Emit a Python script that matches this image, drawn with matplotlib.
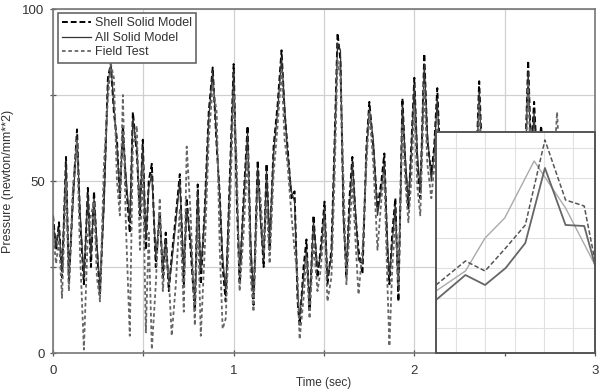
import numpy as np
import matplotlib.pyplot as plt
from matplotlib.ticker import MultipleLocator

plt.rcParams['font.family'] = ['Liberation Sans', 'DejaVu Sans']

# ---------------------------------------------------
# main series (time in sec, pressure in newton/mm**2)
# ---------------------------------------------------
time = [0.000, 0.017, 0.033, 0.050, 0.072, 0.088, 0.110, 0.133, 0.149, 0.171,
        0.193, 0.210, 0.227, 0.243, 0.260, 0.282, 0.304, 0.320, 0.337, 0.354,
        0.370, 0.387, 0.403, 0.425, 0.442, 0.464, 0.481, 0.497, 0.514, 0.530,
        0.547, 0.569, 0.591, 0.608, 0.624, 0.641, 0.657, 0.680, 0.702, 0.724,
        0.740, 0.762, 0.785, 0.801, 0.818, 0.840, 0.862, 0.884, 0.906, 0.923,
        0.939, 0.956, 0.978, 1.000, 1.017, 1.033, 1.055, 1.077, 1.094, 1.110,
        1.133, 1.149, 1.166, 1.182, 1.199, 1.221, 1.243, 1.265, 1.282, 1.298,
        1.320, 1.337, 1.354, 1.365, 1.387, 1.403, 1.420, 1.442, 1.464, 1.481,
        1.503, 1.519, 1.541, 1.558, 1.575, 1.591, 1.608, 1.624, 1.641, 1.657,
        1.674, 1.691, 1.713, 1.735, 1.751, 1.773, 1.796, 1.818, 1.834, 1.851,
        1.862, 1.878, 1.895, 1.912, 1.934, 1.950, 1.967, 1.983, 2.000, 2.017,
        2.033, 2.055, 2.072, 2.094, 2.110, 2.127, 2.144, 2.249, 2.343, 2.359,
        2.376, 2.525, 2.613, 2.630, 2.646, 2.663, 2.680, 2.702, 2.724, 2.773,
        2.790, 2.807, 2.990]

shell_solid = [40, 30, 38, 22, 57, 20, 45, 65, 40, 20,
               48, 25, 47, 30, 17, 45, 80, 84, 70, 62,
               45, 66, 50, 35, 70, 58, 40, 62, 30, 50,
               55, 25, 41, 22, 35, 18, 28, 40, 52, 20,
               45, 30, 12, 49, 20, 42, 70, 83, 60, 46,
               25, 15, 50, 84, 45, 20, 45, 66, 30, 14,
               56, 40, 25, 55, 30, 60, 72, 88, 70, 60,
               45, 47, 15, 8, 25, 33, 12, 40, 22, 30,
               44, 20, 30, 60, 93, 85, 40, 22, 45, 57,
               40, 30, 23, 60, 73, 60, 42, 50, 58, 30,
               20, 35, 45, 15, 74, 55, 42, 60, 80, 55,
               45, 87, 62, 52, 60, 77, 55, 50, 55, 79,
               55, 50, 55, 85, 58, 73, 55, 66, 50, 52,
               55, 50, 45]

all_solid = [38, 31, 36, 24, 55, 22, 43, 63, 42, 22,
             46, 28, 45, 32, 19, 42, 78, 84, 72, 60,
             47, 64, 52, 38, 68, 60, 42, 60, 33, 48,
             52, 28, 40, 25, 33, 20, 26, 38, 50, 24,
             42, 33, 14, 47, 24, 40, 68, 82, 62, 45,
             28, 18, 48, 82, 48, 24, 43, 64, 33, 16,
             54, 38, 27, 53, 33, 58, 70, 86, 72, 58,
             47, 44, 18, 10, 22, 30, 14, 38, 25, 28,
             42, 22, 28, 58, 90, 88, 38, 25, 42, 55,
             42, 27, 26, 58, 71, 62, 40, 48, 55, 33,
             22, 32, 43, 18, 72, 57, 44, 58, 78, 58,
             47, 84, 64, 50, 58, 74, 52, 48, 52, 76,
             52, 48, 52, 82, 55, 70, 52, 60, 48, 50,
             52, 48, 42]

field_test = [35, 26, 33, 16, 50, 18, 48, 62, 30, 1,
              35, 40, 44, 22, 15, 55, 74, 84, 80, 50,
              40, 75, 38, 5, 60, 66, 30, 55, 6, 35,
              1, 20, 45, 18, 30, 22, 5, 20, 42, 12,
              60, 40, 8, 40, 5, 30, 62, 78, 70, 30,
              7, 10, 40, 76, 55, 18, 35, 58, 22, 12,
              48, 45, 30, 44, 26, 52, 66, 82, 62, 55,
              40, 30, 22, 4, 16, 28, 10, 32, 18, 24,
              38, 15, 22, 50, 85, 80, 50, 20, 35, 50,
              33, 17, 30, 55, 70, 55, 30, 45, 52, 20,
              2, 25, 38, 20, 66, 50, 38, 50, 72, 48,
              40, 78, 55, 45, 54, 65, 50, 45, 50, 72,
              50, 45, 50, 78, 52, 65, 50, 58, 45, 55,
              70, 52, 40]

# ---------------------------------------------------
# inset (magnified view, arbitrary units)
# ---------------------------------------------------
inset_x = [0.0, 0.30, 0.50, 0.71, 0.91, 1.11, 1.32, 1.51, 1.62]
inset_shell = [0.68, 0.92, 0.82, 1.05, 1.28, 2.13, 1.53, 1.47, 0.92]
inset_all = [0.53, 0.78, 0.68, 0.85, 1.10, 1.85, 1.28, 1.27, 0.88]
inset_field_x = [0.0, 0.30, 0.50, 0.70, 1.00, 1.32, 1.62]
inset_field = [0.62, 0.82, 1.15, 1.35, 1.92, 1.45, 0.88]

fig = plt.figure(figsize=(6.01, 3.89), dpi=100)
ax = fig.add_axes([53/601, 36/389, 542/601, 344/389])

ax.plot(time, shell_solid, color='black', linestyle=(0, (3, 1.5)), linewidth=1.4, label='Shell Solid Model')
ax.plot(time, all_solid, color='#333333', linestyle='-', linewidth=0.9, label='All Solid Model')
ax.plot(time, field_test, color='#666666', linestyle=(0, (2, 1.5)), linewidth=1.3, label='Field Test')

ax.set_xlim(0, 3)
ax.set_ylim(0, 100)
ax.xaxis.set_major_locator(MultipleLocator(1))
ax.xaxis.set_minor_locator(MultipleLocator(0.5))
ax.yaxis.set_major_locator(MultipleLocator(50))
ax.yaxis.set_minor_locator(MultipleLocator(25))
ax.grid(True, which='both', color='#d0d0d0', linewidth=0.9)
ax.set_axisbelow(True)
ax.tick_params(which='both', direction='inout', length=5, width=0.9, color='#555555',
               labelsize=9.5, labelcolor='#333333')
ax.tick_params(axis='x', pad=6)
for sp in ax.spines.values():
    sp.set_color('#777777')
    sp.set_linewidth(1.2)

ax.set_xlabel('Time (sec)', fontsize=8.5, color='#333333', labelpad=0)
ax.set_ylabel('Pressure (newton/mm**2)', fontsize=9, color='#333333', labelpad=6)

leg = ax.legend(loc='upper left', bbox_to_anchor=(5/542, 1 - 4/344), borderaxespad=0,
                fontsize=9, handlelength=2.3, handletextpad=0.3, labelspacing=0.2,
                borderpad=0.35, fancybox=False, framealpha=1)
leg.get_frame().set_edgecolor('#666666')
leg.get_frame().set_linewidth(1.2)
for txt in leg.get_texts():
    txt.set_color('#333333')

# inset
ins = fig.add_axes([436/601, 36/389, 159/601, 221/389])
ins.set_facecolor('white')
ins.plot(inset_field_x, inset_field, color='#aaaaaa', linewidth=1.0)
ins.plot(inset_x, inset_all, color='#666666', linewidth=1.3)
ins.plot(inset_x, inset_shell, color='#555555', linestyle=(0, (3, 1.5)), linewidth=1.1)
ins.set_xlim(0, 1.62)
ins.set_ylim(0, 2.21)
ins.set_xticks(np.arange(0.2, 1.6, 0.3))
ins.set_yticks(np.arange(0.25, 2.2, 0.3))
ins.grid(True, color='#e0e0e0', linewidth=0.8)
ins.set_axisbelow(True)
ins.tick_params(length=0, labelbottom=False, labelleft=False)
for sp in ins.spines.values():
    sp.set_color('#555555')
    sp.set_linewidth(1.4)

fig.savefig('out.png', dpi=100)
